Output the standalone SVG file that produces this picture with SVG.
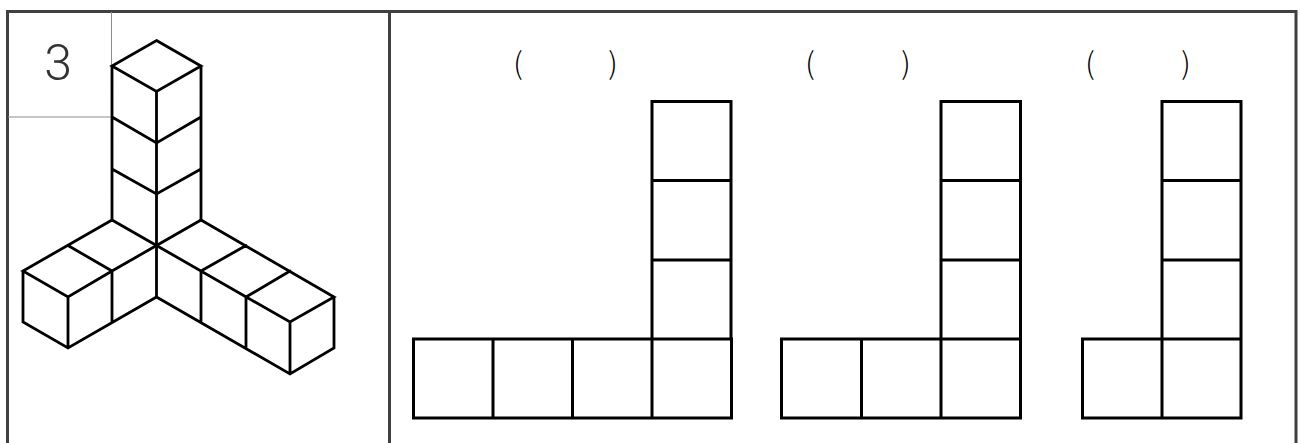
<svg xmlns="http://www.w3.org/2000/svg" width="1300" height="443" viewBox="0 0 1300 443">
<style>
.f{fill:none;stroke:#404040;stroke-width:3}
.t{fill:none;stroke:#8c8c8c;stroke-width:1}
.k{fill:none;stroke:#000;stroke-width:2.8;stroke-linejoin:miter;stroke-linecap:round}
.s{fill:none;stroke:#000;stroke-width:3}
.p{font-family:"Noto Sans CJK JP","Noto Sans",sans-serif;font-size:30px;font-weight:300;fill:#000;text-anchor:middle}
.n{font-family:"Roboto","Liberation Sans",sans-serif;font-size:50px;font-weight:300;fill:#333;text-anchor:middle}
</style>
<rect width="1300" height="443" fill="#fff"/>
<g id="frame">
<path class="f" d="M7.500 443V11.500H1296V443M389.500 11.500V443"/>
<path class="t" d="M8 117H111.500V12"/>
</g>
<g id="number"><text class="n" x="58" y="80">3</text></g>
<g id="cubes">
<path class="k" d="M156.500 40.500L201 66L156.500 91.500L112 66ZM112 66V220M201 66V220M156.500 91.500V297M112 117L156.500 143L201 117M112 169L156.500 194L201 169"/>
<path class="k" d="M112 220L23 271L68 297L112 271L156.500 245.500L201 220M68 245.500L112 271M23 271V322L68 348L156.500 297M68 297V348M112 271V322M112 220L156.500 245.500"/>
<path class="k" d="M201 220L334 297L290 322L156.500 245.500M201 271L246 245.500M246 297L290 271M201 271V322M246 297V348M290 322V374M334 297V348L290 374L156.500 297"/>
</g>
<g id="parens">
<text class="p" x="518" y="74">(</text><text class="p" x="613" y="74">)</text>
<text class="p" x="810" y="74">(</text><text class="p" x="906" y="74">)</text>
<text class="p" x="1090" y="74">(</text><text class="p" x="1186" y="74">)</text>
</g>
<g id="net-a"><path class="s" d="M413.500 339H731.500V418H413.500ZM493 339V418M572.500 339V418M652 339V101.500H731V339M652 180.500H731M652 260H731M652 339V418"/></g>
<g id="net-b"><path class="s" d="M781.500 339H1020.500V418H781.500ZM861.500 339V418M941 418V101.500H1020.500V339M941 180.500H1020.500M941 260H1020.500"/></g>
<g id="net-c"><path class="s" d="M1082.500 339H1241V418H1082.500ZM1162 418V101.500H1241V339M1162 180.500H1241M1162 260H1241"/></g>
</svg>
